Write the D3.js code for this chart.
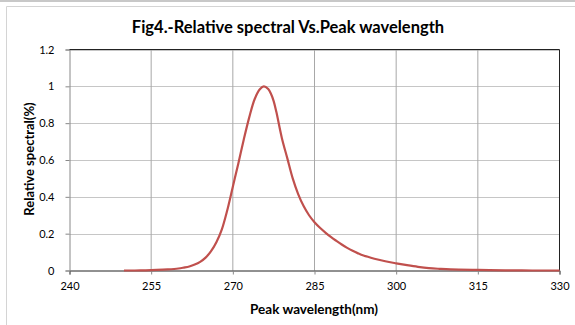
<!DOCTYPE html>
<html><head><meta charset="utf-8">
<script src="https://cdn.jsdelivr.net/npm/d3@7"></script>
<style>body{margin:0;background:#fff}svg{display:block}text{font-family:Lato,"Open Sans",sans-serif;fill:#000}</style>
</head><body><svg id="c" width="575" height="325"></svg>
<script>
const wavelengths = [250,252,254,256,258,260,261,262,263,264,265,266,267,268,269,270,271,272,273,274,275,275.7,276.5,277,277.5,278,279,280,281,282,283,284,285,286,287,288,289,290,291,292,293,294,296,298,300,302,304,306,308,310,315,320,325,330];
const relative = [0,0,0.001,0.003,0.006,0.011,0.016,0.022,0.032,0.047,0.07,0.105,0.155,0.225,0.33,0.455,0.58,0.71,0.83,0.93,0.985,1.0,0.985,0.96,0.92,0.86,0.72,0.61,0.5,0.415,0.35,0.3,0.262,0.232,0.206,0.182,0.161,0.141,0.123,0.107,0.093,0.081,0.064,0.05,0.039,0.029,0.02,0.013,0.009,0.006,0.003,0.001,0,0];
const xTicks = [240,255,270,285,300,315,330];
const yTicks = [0,0.2,0.4,0.6,0.8,1,1.2];
const title = "Fig4.-Relative spectral Vs.Peak wavelength";
const xTitle = "Peak wavelength(nm)";
const yTitle = "Relative spectral(%)";

const svg = d3.select("#c");
const L=69.5, R=559.5, T=49.5, B=270.5;
const x = d3.scaleLinear().domain([240,330]).range([L,R]);
const y = d3.scaleLinear().domain([0,1.2]).range([B,T]);

// outer frame
svg.append("rect").attr("x",0).attr("y",0).attr("width",575).attr("height",2).attr("fill","#c8c8c8");
svg.append("path").attr("d","M6.5,325V6.5H575").attr("fill","none").attr("stroke","#d4d4d4");

// gridlines
svg.append("g").selectAll("line").data(yTicks.slice(1)).join("line")
  .attr("x1",L).attr("x2",R).attr("y1",d=>Math.round(y(d))+0.5).attr("y2",d=>Math.round(y(d))+0.5)
  .attr("stroke","#c6c6c6");
svg.append("g").selectAll("line").data(xTicks.slice(1,-1)).join("line")
  .attr("x1",d=>x(d)).attr("x2",d=>x(d)).attr("y1",T).attr("y2",B)
  .attr("stroke","#a8a8a8");

// axes
const xAxis = svg.append("g").attr("transform",`translate(0,${B})`)
  .call(d3.axisBottom(x).tickValues(xTicks).tickSize(4).tickPadding(8).tickFormat(d3.format("d")));
xAxis.select(".domain").attr("stroke","#222");
xAxis.selectAll(".tick line").attr("stroke","#888");
xAxis.selectAll("text").attr("font-size",11).style("font-family","Lato,sans-serif");

const yAxis = svg.append("g").attr("transform",`translate(${L},0)`)
  .call(d3.axisLeft(y).tickValues(yTicks).tickSize(4).tickPadding(11).tickFormat(d=>String(d)));
yAxis.select(".domain").attr("stroke","#888");
yAxis.selectAll(".tick line").attr("stroke","#888");
yAxis.selectAll("text").attr("font-size",11).style("font-family","Lato,sans-serif");

// plot border top & right
svg.append("path").attr("d",`M${L},${T}H${R}V${B}`).attr("fill","none").attr("stroke","#222");

// series
const line = d3.line().x((d,i)=>x(wavelengths[i])).y(d=>y(d)).curve(d3.curveCatmullRom.alpha(0.5));
svg.append("path").datum(relative).attr("d",line).attr("fill","none")
  .attr("stroke","#c0504d").attr("stroke-width",2.2);

// titles
svg.append("text").attr("x",288).attr("y",33).attr("text-anchor","middle")
  .attr("font-size",16.5).attr("font-weight","bold").text(title);
svg.append("text").attr("x",314).attr("y",314).attr("text-anchor","middle")
  .attr("font-size",13.5).attr("font-weight","bold").text(xTitle);
svg.append("text").attr("transform","translate(34,159) rotate(-90)").attr("text-anchor","middle")
  .attr("font-size",13).attr("font-weight","bold").text(yTitle);
</script></body></html>
